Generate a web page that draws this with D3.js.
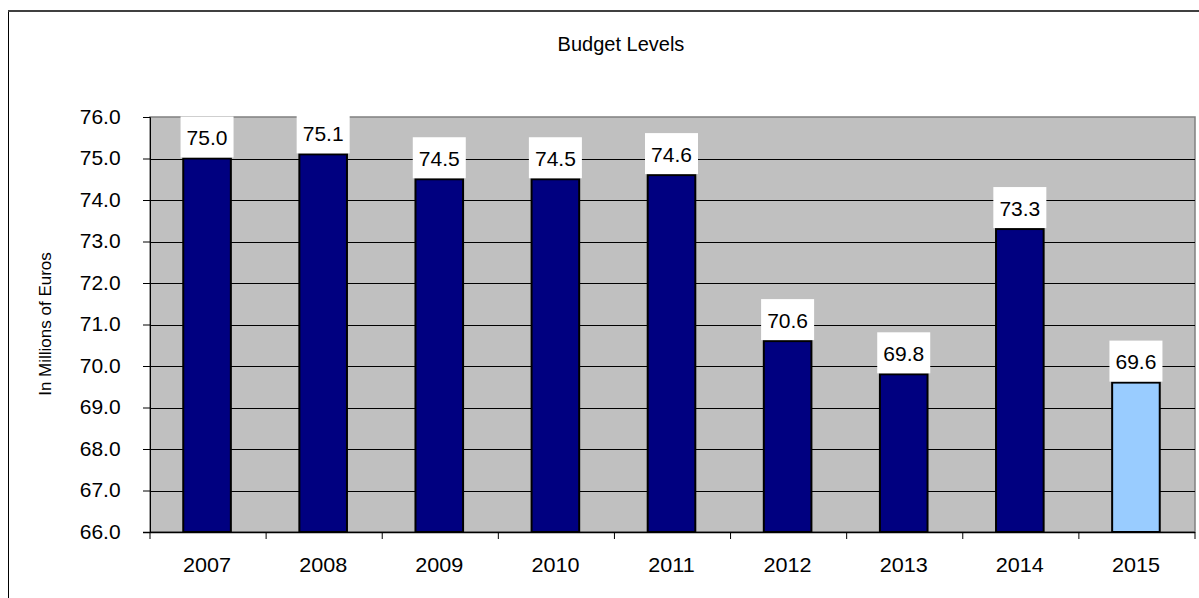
<!DOCTYPE html>
<html>
<head>
<meta charset="utf-8">
<script src="https://cdn.jsdelivr.net/npm/d3@7/dist/d3.min.js"></script>
<style>
  html, body { margin: 0; padding: 0; background: #fff; }
  svg { display: block; font-family: Arial, "Liberation Sans", sans-serif; }
</style>
</head>
<body>
<svg id="chart" width="1199" height="598"></svg>
<script>
// Budget per year, in millions of euros
const years = ["2007", "2008", "2009", "2010", "2011", "2012", "2013", "2014", "2015"];
const budget = [75.0, 75.1, 74.5, 74.5, 74.6, 70.6, 69.8, 73.3, 69.6];
const yTicks = [66, 67, 68, 69, 70, 71, 72, 73, 74, 75, 76];
const highlightYear = "2015";

const chartTitle = "Budget Levels";
const yTitle = "In Millions of Euros";

const svg = d3.select("#chart");
const plot = { left: 150, right: 1195, top: 117, bottom: 532 };

const x = d3.scaleBand().domain(years).range([plot.left, plot.right]).padding(0);
const y = d3.scaleLinear().domain([66, 76]).range([plot.bottom, plot.top]);
const barW = x.bandwidth() * 0.41;

// outer chart frame
svg.append("line").attr("x1", 8.5).attr("x2", 8.5).attr("y1", 11).attr("y2", 598)
  .attr("stroke", "#000").attr("stroke-width", 1);
svg.append("line").attr("x1", 8).attr("x2", 1199).attr("y1", 11).attr("y2", 11)
  .attr("stroke", "#404040").attr("stroke-width", 2);

// plot background
svg.append("rect")
  .attr("x", plot.left).attr("y", plot.top)
  .attr("width", plot.right - plot.left).attr("height", plot.bottom - plot.top)
  .attr("fill", "#c0c0c0").attr("stroke", "#808080").attr("stroke-width", 1.5);

// horizontal gridlines
svg.append("g").selectAll("line")
  .data(yTicks.filter(t => t > 66 && t < 76))
  .join("line")
  .attr("x1", plot.left).attr("x2", plot.right)
  .attr("y1", d => Math.round(y(d)) + 0.5).attr("y2", d => Math.round(y(d)) + 0.5)
  .attr("stroke", "#000").attr("stroke-width", 1);

// y axis
const yAxis = svg.append("g")
  .attr("transform", `translate(${plot.left},0)`)
  .call(d3.axisLeft(y).tickValues(yTicks).tickFormat(d3.format(".1f")).tickSize(7).tickPadding(21));
yAxis.select(".domain").attr("stroke", "#000");
yAxis.selectAll(".tick line").attr("stroke", "#000");
yAxis.selectAll("text").attr("font-size", 20).attr("fill", "#000")
  .attr("font-family", "Arial, 'Liberation Sans', sans-serif")
  .attr("transform", "scale(1.05,1)");

// x axis: ticks at category boundaries
const xAxisG = svg.append("g").attr("transform", `translate(0,${plot.bottom})`);
xAxisG.append("line").attr("x1", plot.left - 7).attr("x2", plot.right)
  .attr("y1", 0.5).attr("y2", 0.5).attr("stroke", "#000").attr("stroke-width", 1.5);
const boundaries = years.map(d => x(d)).concat([plot.right]);
xAxisG.selectAll("line.tk").data(boundaries).join("line").attr("class", "tk")
  .attr("x1", d => d).attr("x2", d => d).attr("y1", 0).attr("y2", 7)
  .attr("stroke", "#000").attr("stroke-width", 1);
xAxisG.selectAll("g.lbl").data(years).join("g").attr("class", "lbl")
  .attr("transform", d => `translate(${x(d) + x.bandwidth() / 2 - 1},40)`)
  .append("text")
  .attr("text-anchor", "middle")
  .attr("font-size", 20)
  .attr("transform", "scale(1.08,1)")
  .text(d => d);

// bars
svg.append("g").selectAll("rect")
  .data(years.map((yr, i) => ({ yr, v: budget[i] })))
  .join("rect")
  .attr("x", d => x(d.yr) + x.bandwidth() / 2 - barW / 2 - 1)
  .attr("y", d => y(d.v))
  .attr("width", barW)
  .attr("height", d => y(66) - y(d.v))
  .attr("fill", d => d.yr === highlightYear ? "#99ccff" : "#000080")
  .attr("stroke", "#000").attr("stroke-width", 2);

// value labels on white boxes
const boxW = 53, boxH = 41;
const labels = svg.append("g").selectAll("g")
  .data(years.map((yr, i) => ({ yr, v: budget[i] })))
  .join("g")
  .attr("transform", d => `translate(${x(d.yr) + x.bandwidth() / 2 - 1},${y(d.v) - 1})`);
labels.append("rect")
  .attr("x", -boxW / 2).attr("y", -boxH)
  .attr("width", boxW).attr("height", boxH)
  .attr("fill", "#fff");
labels.append("text")
  .attr("x", 0).attr("y", -boxH / 2 + 8)
  .attr("text-anchor", "middle")
  .attr("font-size", 21)
  .text(d => d3.format(".1f")(d.v));

// titles
svg.append("text")
  .attr("x", 621).attr("y", 51)
  .attr("text-anchor", "middle")
  .attr("font-size", 20)
  .text(chartTitle);
svg.append("text")
  .attr("transform", `translate(51,324) rotate(-90)`)
  .attr("text-anchor", "middle")
  .attr("font-size", 17)
  .text(yTitle);
</script>
</body>
</html>
